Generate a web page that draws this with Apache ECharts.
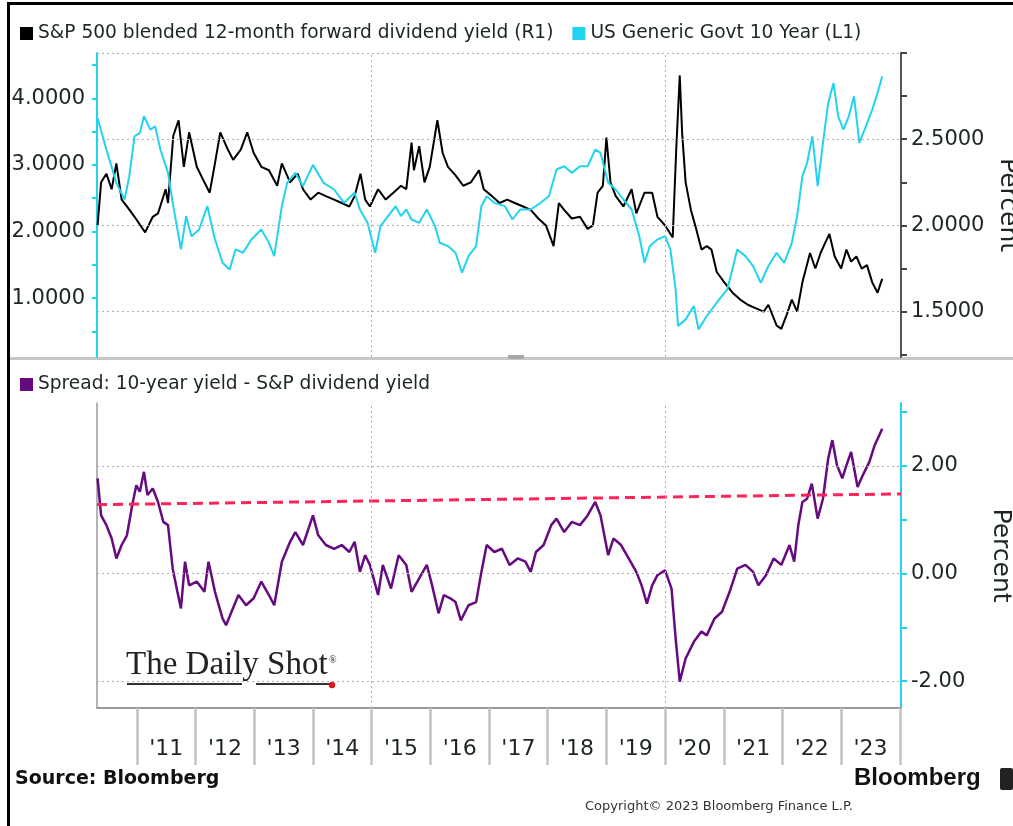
<!DOCTYPE html>
<html>
<head>
<meta charset="utf-8">
<script src="https://cdn.jsdelivr.net/npm/echarts@6.0.0/dist/echarts.min.js"></script>
<style>
html, body { margin: 0; padding: 0; background: #fff; }
#chart { width: 1013px; height: 826px; }
</style>
</head>
<body>
<div id="chart"></div>
<script>
// x values are decimal years
var xMin = 2010.32;
var xMax = 2024.02;

// S&P 500 blended 12-month forward dividend yield (right axis, top panel)
var divYield = [
	[2010.33,2.00],[2010.39,2.25],[2010.48,2.30],[2010.57,2.21],[2010.65,2.36],[2010.74,2.15],[2010.83,2.11],[2010.96,2.05],
	[2011.14,1.96],[2011.27,2.05],[2011.36,2.07],[2011.49,2.21],[2011.53,2.13],[2011.62,2.52],[2011.71,2.61],[2011.80,2.34],
	[2011.89,2.54],[2012.02,2.34],[2012.15,2.25],[2012.24,2.19],[2012.33,2.36],[2012.42,2.54],[2012.55,2.44],[2012.64,2.38],
	[2012.77,2.44],[2012.88,2.54],[2012.99,2.42],[2013.12,2.34],[2013.25,2.32],[2013.39,2.23],[2013.47,2.36],[2013.61,2.25],
	[2013.74,2.30],[2013.83,2.21],[2013.96,2.15],[2014.09,2.19],[2014.22,2.17],[2014.36,2.15],[2014.49,2.13],[2014.62,2.11],
	[2014.71,2.17],[2014.81,2.30],[2014.89,2.15],[2014.97,2.11],[2015.11,2.21],[2015.24,2.15],[2015.37,2.19],[2015.50,2.23],
	[2015.59,2.21],[2015.68,2.48],[2015.72,2.32],[2015.81,2.46],[2015.90,2.25],[2015.99,2.34],[2016.12,2.61],[2016.21,2.42],
	[2016.30,2.34],[2016.43,2.29],[2016.56,2.23],[2016.69,2.25],[2016.83,2.32],[2016.91,2.21],[2017.05,2.17],[2017.18,2.13],
	[2017.31,2.15],[2017.44,2.13],[2017.58,2.11],[2017.71,2.09],[2017.84,2.04],[2017.97,2.00],[2018.10,1.88],[2018.19,2.13],
	[2018.28,2.09],[2018.41,2.04],[2018.55,2.05],[2018.68,1.98],[2018.77,2.00],[2018.85,2.19],[2018.94,2.23],[2019.00,2.51],
	[2019.07,2.25],[2019.16,2.17],[2019.29,2.11],[2019.43,2.21],[2019.51,2.07],[2019.65,2.19],[2019.78,2.19],[2019.87,2.05],
	[2020.00,2.00],[2020.13,1.93],[2020.19,2.44],[2020.25,2.87],[2020.29,2.54],[2020.35,2.25],[2020.44,2.09],[2020.53,1.98],
	[2020.62,1.86],[2020.71,1.88],[2020.79,1.86],[2020.88,1.73],[2021.01,1.67],[2021.15,1.61],[2021.28,1.57],[2021.41,1.54],
	[2021.54,1.52],[2021.68,1.50],[2021.76,1.54],[2021.90,1.42],[2021.98,1.40],[2022.07,1.48],[2022.16,1.57],[2022.25,1.50],
	[2022.34,1.67],[2022.47,1.84],[2022.56,1.75],[2022.65,1.84],[2022.73,1.90],[2022.80,1.95],[2022.89,1.82],[2023.00,1.75],
	[2023.09,1.86],[2023.17,1.79],[2023.26,1.82],[2023.35,1.75],[2023.44,1.77],[2023.53,1.67],[2023.62,1.61],[2023.70,1.69]
];

// US Generic Govt 10 Year (left axis, top panel)
var tsy10 = [
	[2010.33,3.70],[2010.48,3.23],[2010.65,2.73],[2010.79,2.48],[2010.87,2.83],[2010.96,3.43],[2011.05,3.48],[2011.12,3.73],
	[2011.23,3.53],[2011.31,3.58],[2011.40,3.23],[2011.53,2.88],[2011.62,2.38],[2011.75,1.73],[2011.84,2.23],[2011.93,1.93],
	[2012.06,2.03],[2012.20,2.38],[2012.33,1.88],[2012.46,1.53],[2012.58,1.43],[2012.68,1.73],[2012.81,1.68],[2012.95,1.88],
	[2013.12,2.03],[2013.25,1.83],[2013.34,1.63],[2013.47,2.38],[2013.56,2.73],[2013.70,2.88],[2013.83,2.68],[2014.00,3.00],
	[2014.18,2.73],[2014.36,2.63],[2014.53,2.43],[2014.71,2.58],[2014.80,2.33],[2014.93,2.13],[2015.06,1.68],[2015.15,2.08],
	[2015.28,2.23],[2015.41,2.38],[2015.50,2.23],[2015.59,2.33],[2015.68,2.18],[2015.81,2.13],[2015.94,2.33],[2016.08,2.08],
	[2016.16,1.83],[2016.30,1.78],[2016.43,1.68],[2016.54,1.38],[2016.65,1.63],[2016.78,1.78],[2016.87,2.38],[2016.96,2.53],
	[2017.09,2.43],[2017.27,2.38],[2017.40,2.18],[2017.53,2.33],[2017.71,2.33],[2017.88,2.43],[2018.02,2.53],[2018.15,2.93],
	[2018.28,2.98],[2018.41,2.88],[2018.55,2.98],[2018.68,2.98],[2018.81,3.23],[2018.90,3.18],[2019.03,2.73],[2019.16,2.63],
	[2019.29,2.48],[2019.43,2.33],[2019.56,1.93],[2019.65,1.53],[2019.74,1.78],[2019.87,1.88],[2020.00,1.93],[2020.09,1.73],
	[2020.18,1.13],[2020.22,0.58],[2020.35,0.68],[2020.49,0.88],[2020.57,0.53],[2020.71,0.73],[2020.88,0.93],[2021.06,1.13],
	[2021.23,1.73],[2021.37,1.63],[2021.50,1.48],[2021.63,1.23],[2021.76,1.48],[2021.90,1.68],[2022.03,1.53],[2022.16,1.83],
	[2022.25,2.23],[2022.34,2.83],[2022.42,3.03],[2022.51,3.43],[2022.60,2.68],[2022.69,3.33],[2022.78,3.93],[2022.87,4.23],
	[2022.95,3.73],[2023.04,3.53],[2023.13,3.73],[2023.22,4.03],[2023.31,3.33],[2023.40,3.53],[2023.53,3.83],[2023.62,4.08],
	[2023.70,4.33]
];

// Spread: 10-year yield - S&P dividend yield (bottom panel)
var spread = [
	[2010.33,1.77],[2010.39,1.08],[2010.48,0.90],[2010.57,0.65],[2010.65,0.28],[2010.74,0.53],[2010.83,0.71],[2010.92,1.27],
	[2010.99,1.64],[2011.05,1.52],[2011.12,1.89],[2011.18,1.46],[2011.27,1.58],[2011.36,1.33],[2011.45,0.96],[2011.53,0.90],
	[2011.61,0.09],[2011.69,-0.34],[2011.75,-0.65],[2011.82,0.22],[2011.89,-0.22],[2012.02,-0.15],[2012.15,-0.34],[2012.22,0.22],
	[2012.33,-0.34],[2012.46,-0.84],[2012.52,-0.96],[2012.59,-0.77],[2012.73,-0.40],[2012.86,-0.59],[2012.99,-0.46],[2013.12,-0.15],
	[2013.25,-0.40],[2013.34,-0.59],[2013.47,0.22],[2013.61,0.59],[2013.70,0.77],[2013.83,0.53],[2014.00,1.08],[2014.09,0.71],
	[2014.22,0.53],[2014.36,0.46],[2014.49,0.53],[2014.62,0.40],[2014.71,0.59],[2014.80,0.03],[2014.89,0.34],[2014.97,0.16],
	[2015.11,-0.40],[2015.19,0.16],[2015.33,-0.28],[2015.46,0.34],[2015.59,0.16],[2015.68,-0.34],[2015.81,-0.09],[2015.94,0.16],
	[2016.03,-0.22],[2016.14,-0.74],[2016.23,-0.40],[2016.34,-0.46],[2016.43,-0.53],[2016.52,-0.87],[2016.65,-0.59],[2016.78,-0.53],
	[2016.87,0.03],[2016.96,0.53],[2017.09,0.40],[2017.22,0.46],[2017.35,0.16],[2017.49,0.28],[2017.62,0.22],[2017.71,0.03],
	[2017.80,0.40],[2017.93,0.53],[2018.06,0.90],[2018.15,1.02],[2018.28,0.77],[2018.41,0.96],[2018.55,0.90],[2018.68,1.08],
	[2018.81,1.33],[2018.90,1.08],[2019.03,0.34],[2019.12,0.65],[2019.25,0.53],[2019.38,0.28],[2019.51,0.03],[2019.60,-0.22],
	[2019.69,-0.56],[2019.78,-0.22],[2019.87,-0.03],[2020.00,0.06],[2020.11,-0.28],[2020.18,-1.21],[2020.25,-2.01],[2020.35,-1.58],
	[2020.49,-1.27],[2020.62,-1.08],[2020.71,-1.15],[2020.84,-0.84],[2020.97,-0.71],[2021.10,-0.34],[2021.23,0.09],[2021.37,0.16],
	[2021.50,0.03],[2021.59,-0.22],[2021.72,-0.03],[2021.85,0.28],[2021.98,0.16],[2022.12,0.53],[2022.20,0.22],[2022.27,0.90],
	[2022.34,1.33],[2022.42,1.39],[2022.50,1.67],[2022.60,1.02],[2022.69,1.39],[2022.78,2.14],[2022.85,2.48],[2022.93,2.01],
	[2023.02,1.77],[2023.09,2.01],[2023.17,2.26],[2023.28,1.61],[2023.37,1.83],[2023.48,2.07],[2023.57,2.38],[2023.70,2.69]
];

// red dashed trend line on the spread
var spreadTrend = [[2010.32, 1.28], [2024.02, 1.48]];

// axis ticks / labels
var yearTicks = [2011, 2012, 2013, 2014, 2015, 2016, 2017, 2018, 2019, 2020, 2021, 2022, 2023, 2024];
var yearLabelPos = [2011.5, 2012.5, 2013.5, 2014.5, 2015.5, 2016.5, 2017.5, 2018.5, 2019.5, 2020.5, 2021.5, 2022.5, 2023.5];
var tsyLabels = [1, 2, 3, 4];
var tsyTicks = [0.5, 1, 1.5, 2, 2.5, 3, 3.5, 4, 4.5];
var divLabels = [1.5, 2, 2.5];
var divTicks = [1.25, 1.5, 1.75, 2, 2.25, 2.5, 2.75, 3];
var spreadLabels = [-2, 0, 2];
var spreadTicks = [-2, -1, 0, 1, 2, 3];
var vGrid = [2015, 2020];

var nameDiv = 'S&P 500 blended 12-month forward dividend yield (R1)';
var nameTsy = 'US Generic Govt 10 Year (L1)';
var nameSpread = 'Spread: 10-year yield - S&P dividend yield';

var FONT = 'DejaVu Sans';
var CYAN = '#22d3ee';
var TXT = '#1c2626';

var myChart = echarts.init(document.getElementById('chart'));

function gridLines(hVals) {
	var d = [];
	hVals.forEach(function(v) { d.push({ yAxis: v }); });
	vGrid.forEach(function(v) { d.push({ xAxis: v }); });
	return d;
}

var option = {
	backgroundColor: '#fff',
	animation: false,
	legend: [{
		left: 15,
		top: 19,
		data: [nameDiv, nameTsy],
		icon: 'rect',
		itemWidth: 13,
		itemHeight: 13,
		itemGap: 19,
		selectedMode: false,
		textStyle: { fontFamily: FONT, fontSize: 18.6, color: TXT }
	}, {
		left: 15,
		top: 370,
		data: [nameSpread],
		icon: 'rect',
		itemWidth: 13,
		itemHeight: 13,
		selectedMode: false,
		textStyle: { fontFamily: FONT, fontSize: 18.6, color: TXT }
	}],
	grid: [
		{ left: 97, right: 112, top: 53, height: 304, outerBoundsMode: 'none' },
		{ left: 97, right: 112, top: 403, height: 305, outerBoundsMode: 'none' }
	],
	xAxis: [{
		gridIndex: 0,
		type: 'value',
		min: xMin,
		max: xMax,
		axisLine: { show: false },
		axisTick: { show: false },
		axisLabel: { show: false },
		splitLine: { show: false }
	}, {
		gridIndex: 1,
		type: 'value',
		min: xMin,
		max: xMax,
		axisLine: { show: true, onZero: false, lineStyle: { color: '#9c9c9c', width: 2 } },
		axisTick: { show: true, customValues: yearTicks, length: 57, lineStyle: { color: '#c2c2c2', width: 2.5 } },
		axisLabel: {
			customValues: yearLabelPos,
			margin: 30,
			fontFamily: FONT,
			fontSize: 22,
			color: TXT,
			formatter: function(v) { return "'" + String(Math.floor(v)).slice(2); }
		},
		splitLine: { show: false }
	}],
	yAxis: [{
		gridIndex: 0,
		type: 'value',
		position: 'left',
		min: 0.115,
		max: 4.68,
		axisLine: { show: true, lineStyle: { color: CYAN, width: 2 } },
		axisTick: { show: true, customValues: tsyTicks, length: 5, lineStyle: { color: CYAN, width: 2 } },
		axisLabel: {
			customValues: tsyLabels,
			margin: 12,
			fontFamily: FONT,
			fontSize: 21,
			color: TXT,
			formatter: function(v) { return v.toFixed(4); }
		},
		splitLine: { show: false }
	}, {
		gridIndex: 0,
		type: 'value',
		position: 'right',
		min: 1.237,
		max: 3.0,
		name: 'Percent',
		nameLocation: 'middle',
		nameRotate: -90,
		nameGap: 87,
		nameTextStyle: { fontFamily: FONT, fontSize: 25, color: TXT },
		axisLine: { show: true, lineStyle: { color: '#555', width: 2 } },
		axisTick: { show: true, customValues: divTicks, length: 6, lineStyle: { color: '#444', width: 2 } },
		axisLabel: {
			customValues: divLabels,
			margin: 10,
			fontFamily: FONT,
			fontSize: 21,
			color: TXT,
			formatter: function(v) { return v.toFixed(4); }
		},
		splitLine: { show: false }
	}, {
		gridIndex: 1,
		type: 'value',
		position: 'right',
		min: -2.5,
		max: 3.17,
		name: 'Percent',
		nameLocation: 'middle',
		nameRotate: -90,
		nameGap: 87,
		nameTextStyle: { fontFamily: FONT, fontSize: 25, color: TXT },
		axisLine: { show: true, lineStyle: { color: CYAN, width: 2 } },
		axisTick: { show: true, customValues: spreadTicks, length: 6, lineStyle: { color: CYAN, width: 2 } },
		axisLabel: {
			customValues: spreadLabels,
			margin: 10,
			fontFamily: FONT,
			fontSize: 21,
			color: TXT,
			formatter: function(v) { return v.toFixed(2); }
		},
		splitLine: { show: false }
	}, {
		gridIndex: 1,
		type: 'value',
		position: 'left',
		min: -2.5,
		max: 3.17,
		axisLine: { show: true, onZero: false, lineStyle: { color: '#9c9c9c', width: 1.5 } },
		axisTick: { show: false },
		axisLabel: { show: false },
		splitLine: { show: false }
	}],
	series: [{
		// dotted gridlines of the top panel
		type: 'line',
		xAxisIndex: 0,
		yAxisIndex: 1,
		data: [],
		z: 1,
		markLine: {
			silent: true,
			symbol: 'none',
			label: { show: false },
			lineStyle: { type: [2, 3], color: '#b0b0b0', width: 1 },
			data: gridLines([1.5, 2, 2.5, 3])
		}
	}, {
		// dotted gridlines of the bottom panel
		type: 'line',
		xAxisIndex: 1,
		yAxisIndex: 2,
		data: [],
		z: 1,
		markLine: {
			silent: true,
			symbol: 'none',
			label: { show: false },
			lineStyle: { type: [2, 3], color: '#b0b0b0', width: 1 },
			data: gridLines([-2, 0, 2])
		}
	}, {
		name: nameDiv,
		type: 'line',
		xAxisIndex: 0,
		yAxisIndex: 1,
		data: divYield,
		showSymbol: false,
		z: 3,
		color: '#000',
		lineStyle: { color: '#000', width: 2 }
	}, {
		name: nameTsy,
		type: 'line',
		xAxisIndex: 0,
		yAxisIndex: 0,
		data: tsy10,
		showSymbol: false,
		z: 4,
		color: CYAN,
		lineStyle: { color: CYAN, width: 2 }
	}, {
		name: nameSpread,
		type: 'line',
		xAxisIndex: 1,
		yAxisIndex: 2,
		data: spread,
		showSymbol: false,
		z: 3,
		color: '#660a80',
		lineStyle: { color: '#660a80', width: 2.5 }
	}, {
		name: 'trend',
		type: 'line',
		xAxisIndex: 1,
		yAxisIndex: 2,
		data: spreadTrend,
		showSymbol: false,
		z: 4,
		lineStyle: { color: '#ff2358', width: 3, type: [10, 6] }
	}],
	graphic: [
		{ type: 'rect', left: 7, top: 2, shape: { width: 1006, height: 3 }, style: { fill: '#000' }, silent: true },
		{ type: 'rect', left: 7, top: 2, shape: { width: 3, height: 824 }, style: { fill: '#000' }, silent: true },
		{ type: 'rect', left: 10, top: 357, shape: { width: 1003, height: 3 }, style: { fill: '#c6c6c6' }, silent: true },
		{ type: 'rect', left: 508, top: 355, shape: { width: 16, height: 4 }, style: { fill: '#a8a8a8' }, silent: true },
		{ type: 'text', left: 15, top: 770, style: { text: 'Source: Bloomberg', fontFamily: FONT, fontWeight: 'bold', fontSize: 19, fill: '#111' } },
		{ type: 'text', left: 854, top: 766, style: { text: 'Bloomberg', fontFamily: 'Liberation Sans', fontWeight: 'bold', fontSize: 24, fill: '#111' } },
		{ type: 'rect', left: 1000, top: 768, shape: { width: 13, height: 22, r: 2 }, style: { fill: '#222' } },
		{ type: 'text', left: 585, top: 800, style: { text: 'Copyright\u00a9 2023 Bloomberg Finance L.P.', fontFamily: FONT, fontSize: 13, fill: '#333' } },
		{ type: 'text', left: 126, top: 649, style: { text: 'The Daily Shot', fontFamily: 'Liberation Serif', fontSize: 33, fill: '#222' } },
		{ type: 'text', left: 329, top: 655, style: { text: '\u00ae', fontFamily: 'Liberation Serif', fontSize: 10, fill: '#222' } },
		{ type: 'line', shape: { x1: 127, y1: 684, x2: 242, y2: 684 }, style: { stroke: '#333', lineWidth: 2 } },
		{ type: 'line', shape: { x1: 256, y1: 684, x2: 330, y2: 684 }, style: { stroke: '#333', lineWidth: 2 } },
		{ type: 'circle', shape: { cx: 332, cy: 685, r: 3.2 }, style: { fill: '#e8141c' } }
	]
};

myChart.setOption(option);
</script>
</body>
</html>
